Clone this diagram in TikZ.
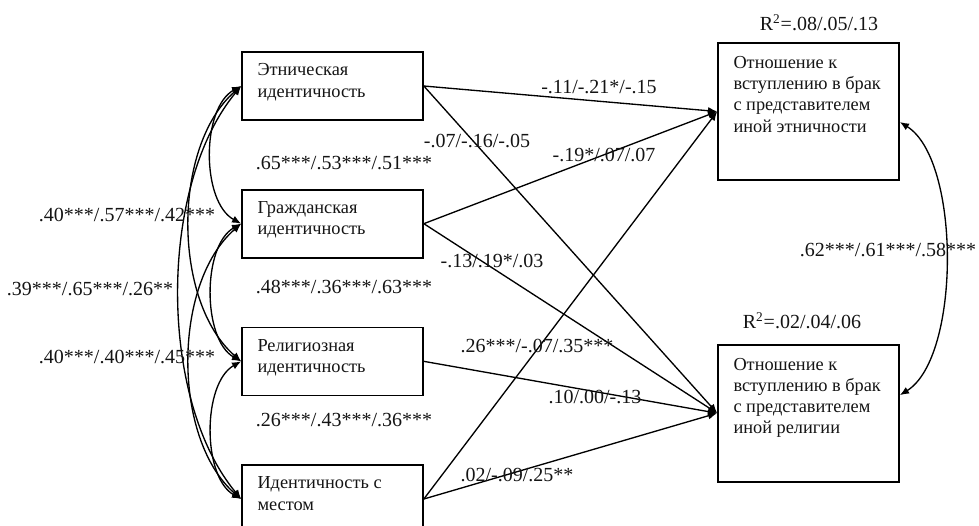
\documentclass[tikz,border=0pt]{standalone}
\usepackage{fontspec}
\setmainfont{Liberation Serif}
\usepackage{tikz}
\usetikzlibrary{
  arrows.meta,
  positioning
}
\definecolor{linecolor}{RGB}{0, 0, 0}
\definecolor{labelcolor}{RGB}{20, 20, 20}
\newcommand{\boxtext}[3]{\parbox[t][#1][t]{#2}{\begin{tabular}[t]{@{}l@{}}#3\end{tabular}}}
\tikzset{
basetext/.style={
  font=\fontsize{12}{12.6}\selectfont,
  text=labelcolor
},
idblock/.style={
  draw=linecolor,
  line width=1pt,
  inner xsep=9.3pt,
  inner ysep=5.5pt,
  font=\fontsize{11}{12.65}\selectfont,
  text=labelcolor
},
outblock/.style={
  idblock,
  inner ysep=6.6pt
},
coeflabel/.style={
  basetext,
  inner sep=0pt
},
arrow/.style={
  -{Latex[length=5.5pt,width=4.5pt]},
  line width=0.8pt,
  draw=linecolor
},
corrarrow/.style={
  {Latex[length=5.5pt,width=4.5pt]}-{Latex[length=5.5pt,width=4.5pt]},
  line width=0.8pt,
  draw=linecolor
}
}

\begin{document}
\begin{tikzpicture}[x=0.6pt, y=-0.6pt]
  \useasboundingbox (0,0) rectangle (979,525);

  % predictors
  \node[idblock] (ethnic) at (332.5,86) {\boxtext{29.8pt}{90pt}{Этническая\\идентичность}};
  \node[idblock, below=40.8pt of ethnic] (civic) {\boxtext{29.8pt}{90pt}{Гражданская\\идентичность}};
  \node[idblock, below=40.8pt of civic] (relig) {\boxtext{29.8pt}{90pt}{Религиозная\\идентичность}};
  \node[idblock, below=40.8pt of relig] (place) {\boxtext{29.8pt}{90pt}{Идентичность с\\местом}};

  % outcomes
  \node[outblock] (marethn) at (808.5,111.5) {\boxtext{69pt}{90pt}{Отношение к\\вступлению в брак\\с представителем\\иной этничности}};
  \node[outblock, below=97.8pt of marethn] (marrel) {\boxtext{69pt}{90pt}{Отношение к\\вступлению в брак\\с представителем\\иной религии}};

  \node[coeflabel] (r2ethn) at (819,23) {R\textsuperscript{2}=.08/.05/.13};
  \node[coeflabel] (r2rel) at (802,321) {R\textsuperscript{2}=.02/.04/.06};

  % paths
  \draw[arrow] (ethnic.east) -- (marethn.west);
  \draw[arrow] (ethnic.east) -- (marrel.west);
  \draw[arrow] (civic.east) -- (marethn.west);
  \draw[arrow] (civic.east) -- (marrel.west);
  \draw[arrow] (relig.east) -- (marrel.west);
  \draw[arrow] (place.east) -- (marethn.west);
  \draw[arrow] (place.east) -- (marrel.west);

  \node[coeflabel] (b11) at (599,87) {-.11/-.21*/-.15};
  \node[coeflabel] (b12) at (477,141) {-.07/-.16/-.05};
  \node[coeflabel] (b21) at (604,155) {-.19*/.07/.07};
  \node[coeflabel] (b22) at (492,261) {-.13/.19*/.03};
  \node[coeflabel] (b41) at (537,346) {.26***/-.07/.35***};
  \node[coeflabel] (b32) at (595,397) {.10/.00/-.13};
  \node[coeflabel] (b42) at (517,475) {.02/-.09/.25**};

  % correlations
  \draw[corrarrow] (ethnic.west) .. controls +(-40,22) and +(-40,-22) .. (civic.west);
  \draw[corrarrow] (civic.west) .. controls +(-39,22) and +(-39,-22) .. (relig.west);
  \draw[corrarrow] (relig.west) .. controls +(-39,22) and +(-39,-22) .. (place.west);
  \draw[corrarrow] (ethnic.west) .. controls +(-69,60) and +(-69,-60) .. (relig.west);
  \draw[corrarrow] (civic.west) .. controls +(-69,60) and +(-69,-60) .. (place.west);
  \draw[corrarrow] (ethnic.west) .. controls +(-83,100) and +(-83,-100) .. (place.west);
  \draw[corrarrow] ([yshift=-6.3pt]marethn.east) .. controls +(61,38) and +(61,-38) .. ([yshift=10.8pt]marrel.east);

  \node[coeflabel] (r12) at (344,163) {.65***/.53***/.51***};
  \node[coeflabel] (r23) at (344,287) {.48***/.36***/.63***};
  \node[coeflabel] (r34) at (344,420) {.26***/.43***/.36***};
  \node[coeflabel] (r13) at (127,215) {.40***/.57***/.42***};
  \node[coeflabel] (r14) at (90,289) {.39***/.65***/.26**};
  \node[coeflabel] (r24) at (127,357) {.40***/.40***/.45***};
  \node[coeflabel] (ry) at (888,250) {.62***/.61***/.58***};
\end{tikzpicture}
\end{document}
